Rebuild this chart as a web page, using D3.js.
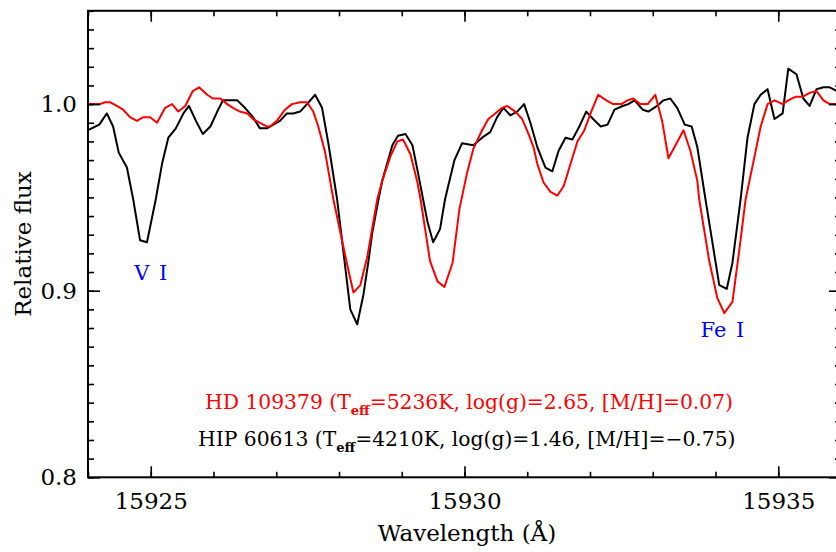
<!DOCTYPE html>
<html>
<head>
<meta charset="utf-8">
<script src="https://cdn.jsdelivr.net/npm/d3@7"></script>
<style>
  body { margin: 0; background: #fff; }
  text { font-family: "DejaVu Serif", serif; }
</style>
</head>
<body>
<div id="vis"></div>
<script>
var width = 836,
    height = 552;

// HIP 60613 (black)
var hipWave = [15924.00, 15924.18, 15924.30, 15924.40, 15924.49, 15924.62, 15924.72, 15924.83, 15924.94, 15925.08,
    15925.18, 15925.28, 15925.40, 15925.52, 15925.61, 15925.72, 15925.83, 15925.95, 15926.06, 15926.15,
    15926.26, 15926.38, 15926.50, 15926.63, 15926.74, 15926.85, 15927.06, 15927.17, 15927.27, 15927.38,
    15927.49, 15927.62, 15927.73, 15927.83, 15927.97, 15928.18, 15928.29, 15928.39, 15928.47, 15928.53,
    15928.63, 15928.69, 15928.85, 15928.94, 15929.06, 15929.17, 15929.26, 15929.34, 15929.41, 15929.50,
    15929.61, 15929.69, 15929.84, 15929.96, 15930.14, 15930.28, 15930.41, 15930.52, 15930.62, 15930.73,
    15930.84, 15930.95, 15931.05, 15931.16, 15931.29, 15931.40, 15931.50, 15931.61, 15931.72, 15931.83,
    15931.94, 15932.05, 15932.17, 15932.28, 15932.39, 15932.52, 15932.61, 15932.71, 15932.84, 15932.93,
    15933.07, 15933.17, 15933.28, 15933.39, 15933.51, 15933.62, 15933.71, 15933.84, 15933.95, 15934.06,
    15934.18, 15934.27, 15934.40, 15934.51, 15934.62, 15934.72, 15934.83, 15934.94, 15935.07, 15935.16,
    15935.29, 15935.40, 15935.50, 15935.61, 15935.72, 15935.82, 15935.93, 15936.00];
var hipFlux = [0.986, 0.989, 0.995, 0.988, 0.974, 0.966, 0.949, 0.927, 0.926, 0.949,
    0.968, 0.982, 0.987, 0.995, 0.999, 0.991, 0.984, 0.988, 0.996, 1.002,
    1.002, 1.002, 0.998, 0.993, 0.987, 0.987, 0.991, 0.995, 0.995, 0.996,
    1.000, 1.005, 0.998, 0.979, 0.949, 0.890, 0.882, 0.898, 0.916, 0.931,
    0.949, 0.959, 0.978, 0.983, 0.984, 0.978, 0.963, 0.949, 0.937, 0.926,
    0.933, 0.949, 0.970, 0.979, 0.978, 0.982, 0.985, 0.993, 0.998, 0.994,
    0.996, 1.000, 0.990, 0.977, 0.966, 0.964, 0.975, 0.982, 0.981, 0.988,
    0.996, 0.992, 0.988, 0.989, 0.997, 0.999, 1.000, 1.002, 0.997, 0.996,
    0.999, 1.002, 1.003, 0.998, 0.989, 0.988, 0.977, 0.949, 0.926, 0.903,
    0.901, 0.915, 0.949, 0.982, 1.000, 1.005, 1.008, 0.992, 0.995, 1.019,
    1.016, 1.003, 0.999, 1.008, 1.009, 1.009, 1.007, 1.005];

// HD 109379 (red)
var hdWave = [15924.00, 15924.19, 15924.27, 15924.35, 15924.46, 15924.56, 15924.67, 15924.78, 15924.88, 15924.99,
    15925.10, 15925.23, 15925.34, 15925.44, 15925.55, 15925.67, 15925.77, 15925.90, 15925.99, 15926.11,
    15926.22, 15926.31, 15926.42, 15926.54, 15926.63, 15926.74, 15926.85, 15926.90, 15927.01, 15927.14,
    15927.25, 15927.38, 15927.49, 15927.59, 15927.67, 15927.78, 15927.91, 15928.13, 15928.23, 15928.34,
    15928.45, 15928.61, 15928.69, 15928.82, 15928.93, 15929.02, 15929.14, 15929.25, 15929.30, 15929.45,
    15929.57, 15929.68, 15929.81, 15929.92, 15930.04, 15930.14, 15930.28, 15930.38, 15930.49, 15930.60,
    15930.68, 15930.81, 15930.92, 15931.02, 15931.10, 15931.16, 15931.26, 15931.37, 15931.48, 15931.58,
    15931.69, 15931.80, 15931.91, 15932.02, 15932.13, 15932.26, 15932.37, 15932.50, 15932.60, 15932.69,
    15932.80, 15932.92, 15933.04, 15933.15, 15933.25, 15933.38, 15933.49, 15933.60, 15933.71, 15933.74,
    15933.90, 15934.03, 15934.14, 15934.27, 15934.38, 15934.48, 15934.61, 15934.72, 15934.83, 15934.94,
    15935.07, 15935.16, 15935.28, 15935.39, 15935.50, 15935.61, 15935.72, 15935.82, 15935.93, 15936.00];
var hdFlux = [1.000, 1.000, 1.001, 1.001, 0.999, 0.997, 0.993, 0.991, 0.993, 0.993,
    0.990, 0.998, 1.000, 0.996, 0.999, 1.007, 1.009, 1.005, 1.003, 1.003,
    1.000, 0.998, 0.996, 0.995, 0.992, 0.990, 0.988, 0.988, 0.991, 0.997,
    1.000, 1.001, 1.001, 0.996, 0.988, 0.974, 0.949, 0.914, 0.899, 0.903,
    0.918, 0.949, 0.959, 0.972, 0.980, 0.981, 0.973, 0.958, 0.949, 0.916,
    0.905, 0.902, 0.915, 0.944, 0.963, 0.976, 0.986, 0.992, 0.995, 0.998,
    0.999, 0.996, 0.992, 0.984, 0.977, 0.968, 0.958, 0.953, 0.951, 0.956,
    0.968, 0.980, 0.986, 0.996, 1.005, 1.002, 1.000, 1.000, 1.002, 1.003,
    1.000, 1.000, 1.005, 0.991, 0.971, 0.979, 0.986, 0.975, 0.959, 0.949,
    0.916, 0.896, 0.888, 0.894, 0.922, 0.949, 0.970, 0.988, 1.000, 1.002,
    1.000, 1.002, 1.004, 1.004, 1.006, 1.007, 1.002, 1.000, 1.000, 1.000];

var xMajor = [15925, 15930, 15935];
var yMajor = [0.8, 0.9, 1.0];

var lineNames = ["V I", "Fe I"];
var lineWave = [15925.0, 15934.11];
var lineFlux = [0.9055, 0.875];

var x = d3.scaleLinear().domain([15924, 15936]).range([88, 841]);
var y = d3.scaleLinear().domain([0.8, 1.05]).range([477.3, 10.8]);

var svg = d3.select("#vis").append("svg")
    .attr("width", width)
    .attr("height", height);

svg.append("clipPath")
    .attr("id", "plotclip")
    .append("rect")
    .attr("x", x.range()[0])
    .attr("y", y.range()[1])
    .attr("width", x.range()[1] - x.range()[0])
    .attr("height", y.range()[0] - y.range()[1]);

var line = d3.line()
    .x(d => x(d[0]))
    .y(d => y(d[1]));

svg.append("path")
    .datum(d3.zip(hipWave, hipFlux))
    .attr("clip-path", "url(#plotclip)")
    .attr("fill", "none")
    .attr("stroke", "#000")
    .attr("stroke-width", 2)
    .attr("stroke-linejoin", "round")
    .attr("d", line);

svg.append("path")
    .datum(d3.zip(hdWave, hdFlux))
    .attr("clip-path", "url(#plotclip)")
    .attr("fill", "none")
    .attr("stroke", "#ff0000")
    .attr("stroke-width", 2)
    .attr("stroke-linejoin", "round")
    .attr("d", line);

// axes: ticks pointing inwards on all four sides
function styleAxis(g) {
    g.select(".domain").remove();
    g.selectAll(".tick line").attr("stroke", "#000").attr("stroke-width", 1.6);
    g.selectAll(".tick text")
        .attr("fill", "#000")
        .attr("font-family", "DejaVu Serif")
        .attr("font-size", 23);
}

var xMinor = x.ticks(12), yMinor = y.ticks(25);
var b = y.range()[0], t = y.range()[1], l = x.range()[0], r = x.range()[1];

svg.append("g").attr("transform", `translate(0,${b})`)
    .call(d3.axisBottom(x).tickValues(xMinor).tickSize(-5.5).tickFormat("")).call(styleAxis);
svg.append("g").attr("transform", `translate(0,${b})`)
    .call(d3.axisBottom(x).tickValues(xMajor).tickSize(-11).tickPadding(15).tickFormat(d3.format("d"))).call(styleAxis);
svg.append("g").attr("transform", `translate(0,${t})`)
    .call(d3.axisTop(x).tickValues(xMinor).tickSize(-5.5).tickFormat("")).call(styleAxis);
svg.append("g").attr("transform", `translate(0,${t})`)
    .call(d3.axisTop(x).tickValues(xMajor).tickSize(-11).tickFormat("")).call(styleAxis);

svg.append("g").attr("transform", `translate(${l},0)`)
    .call(d3.axisLeft(y).tickValues(yMinor).tickSize(-6).tickFormat("")).call(styleAxis);
svg.append("g").attr("transform", `translate(${l},0)`)
    .call(d3.axisLeft(y).tickValues(yMajor).tickSize(-12).tickPadding(11).tickFormat(d3.format(".1f"))).call(styleAxis);
svg.append("g").attr("transform", `translate(${r},0)`)
    .call(d3.axisRight(y).tickValues(yMinor).tickSize(-6).tickFormat("")).call(styleAxis);
svg.append("g").attr("transform", `translate(${r},0)`)
    .call(d3.axisRight(y).tickValues(yMajor).tickSize(-12).tickFormat("")).call(styleAxis);

svg.append("rect")
    .attr("x", l).attr("y", t)
    .attr("width", r - l).attr("height", b - t)
    .attr("fill", "none")
    .attr("stroke", "#000")
    .attr("stroke-width", 2);

// axis titles
svg.append("text")
    .attr("x", 467).attr("y", 541)
    .attr("text-anchor", "middle")
    .attr("font-size", 23)
    .text("Wavelength (Å)");

svg.append("text")
    .attr("transform", "translate(31,244) rotate(-90)")
    .attr("text-anchor", "middle")
    .attr("font-size", 23)
    .text("Relative flux");

// line identifications
svg.selectAll(".lineid")
    .data(lineNames)
    .join("text")
    .attr("class", "lineid")
    .attr("x", (d, i) => x(lineWave[i]))
    .attr("y", (d, i) => y(lineFlux[i]))
    .attr("text-anchor", "middle")
    .attr("font-size", 21)
    .attr("word-spacing", 3)
    .attr("fill", "#0000ff")
    .text(d => d);

// star labels with T_eff subscript
function starLabel(name, rest, color, xp, yp) {
    var txt = svg.append("text")
        .attr("x", xp).attr("y", yp)
        .attr("font-size", 20.3)
        .attr("fill", color);
    txt.append("tspan").text(name + " (T");
    txt.append("tspan").attr("dy", 6).attr("font-size", 13).attr("font-weight", "bold").text("eff");
    txt.append("tspan").attr("dy", -6).text(rest);
}
starLabel("HD 109379", "=5236K, log(g)=2.65, [M/H]=0.07)", "#ff0000", 205, 409);
starLabel("HIP 60613", "=4210K, log(g)=1.46, [M/H]=\u22120.75)", "#000", 198, 446);
</script>
</body>
</html>
